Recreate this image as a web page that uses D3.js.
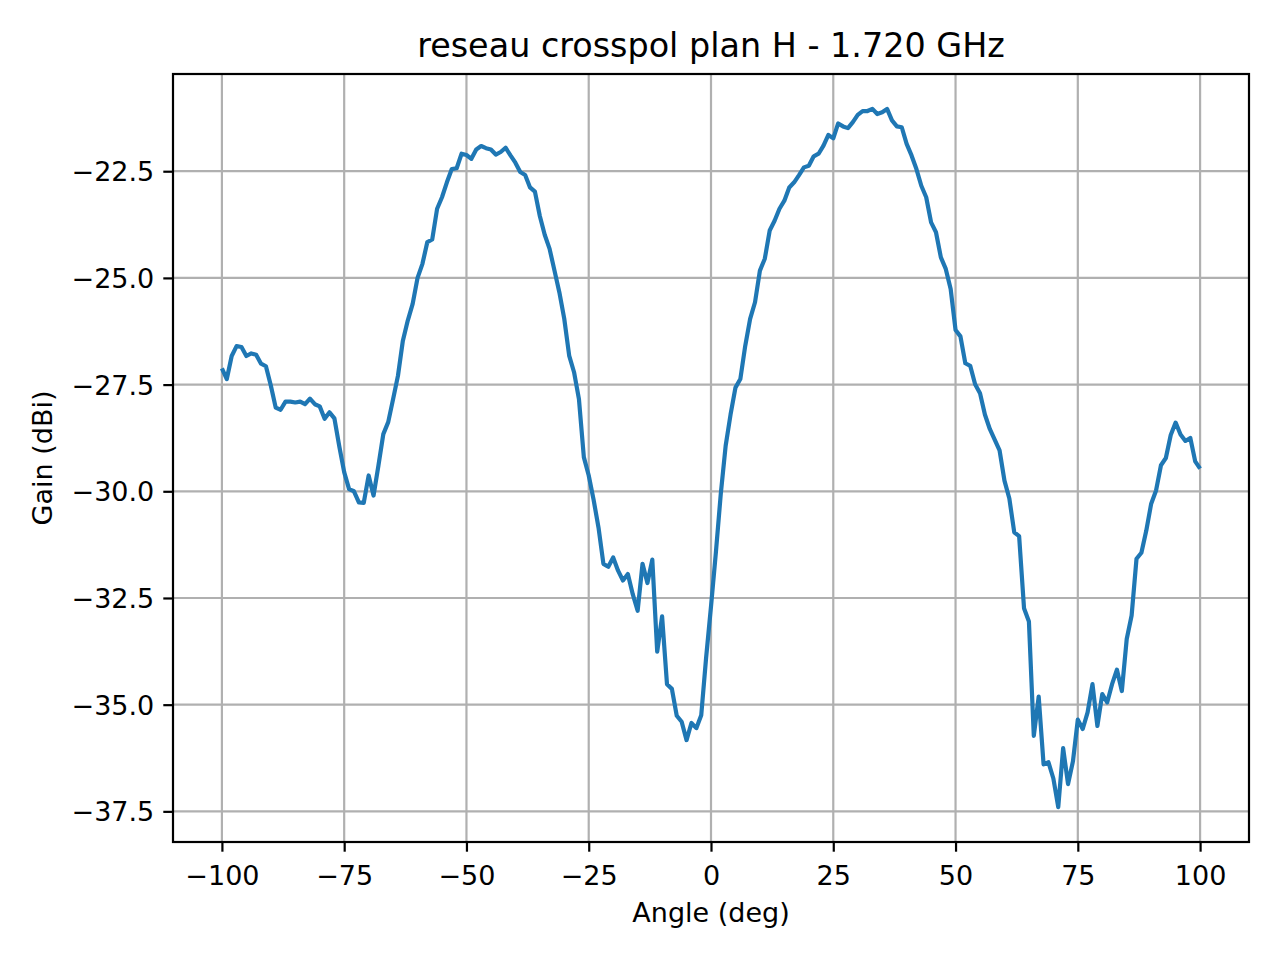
<!DOCTYPE html>
<html>
<head>
<meta charset="utf-8">
<script src="https://cdn.jsdelivr.net/npm/d3@7"></script>
<style>
  html, body { margin: 0; padding: 0; background: #ffffff; }
  svg { display: block; font-family: "DejaVu Sans", sans-serif; }
</style>
</head>
<body>
<svg id="chart" width="1280" height="960"></svg>
<script>
// ---- data ----
const titleText = "reseau crosspol plan H - 1.720 GHz";
const xLabelText = "Angle (deg)";
const yLabelText = "Gain (dBi)";
const angles = d3.range(-100, 101, 1);
const gain = [
  -27.12, -27.37, -26.83, -26.60, -26.62, -26.83, -26.77, -26.80, -27.01, -27.07,
  -27.52, -28.04, -28.09, -27.90, -27.90, -27.92, -27.90, -27.96, -27.83, -27.96,
  -28.01, -28.30, -28.15, -28.29, -28.95, -29.55, -29.95, -30.00, -30.26, -30.27,
  -29.63, -30.10, -29.40, -28.66, -28.38, -27.84, -27.29, -26.47, -26.00, -25.61,
  -25.00, -24.67, -24.16, -24.10, -23.38, -23.11, -22.76, -22.45, -22.43, -22.09,
  -22.12, -22.21, -21.99, -21.91, -21.96, -21.99, -22.11, -22.05, -21.95, -22.13,
  -22.30, -22.52, -22.59, -22.88, -22.98, -23.55, -23.99, -24.32, -24.83, -25.34,
  -25.96, -26.82, -27.21, -27.84, -29.20, -29.63, -30.20, -30.85, -31.70, -31.77,
  -31.55, -31.86, -32.09, -31.94, -32.41, -32.80, -31.70, -32.15, -31.60, -33.76,
  -32.93, -34.52, -34.63, -35.26, -35.40, -35.83, -35.43, -35.55, -35.25, -33.90,
  -32.70, -31.43, -30.06, -28.93, -28.20, -27.57, -27.37, -26.59, -25.96, -25.57,
  -24.83, -24.55, -23.89, -23.66, -23.38, -23.19, -22.88, -22.76, -22.59, -22.41,
  -22.37, -22.15, -22.09, -21.90, -21.65, -21.73, -21.38, -21.45, -21.49, -21.35,
  -21.18, -21.09, -21.09, -21.04, -21.16, -21.12, -21.04, -21.31, -21.45, -21.47,
  -21.86, -22.13, -22.45, -22.84, -23.11, -23.70, -23.93, -24.52, -24.79, -25.26,
  -26.22, -26.37, -27.00, -27.06, -27.49, -27.70, -28.20, -28.54, -28.79, -29.04,
  -29.75, -30.17, -30.96, -31.05, -32.74, -33.05, -35.73, -34.81, -36.40, -36.35,
  -36.73, -37.40, -36.02, -36.86, -36.33, -35.35, -35.57, -35.18, -34.52, -35.50,
  -34.75, -34.95, -34.52, -34.18, -34.68, -33.46, -32.91, -31.58, -31.44, -30.92,
  -30.29, -29.98, -29.39, -29.22, -28.68, -28.39, -28.67, -28.82, -28.75, -29.30,
  -29.47
];
const xTicks = [-100, -75, -50, -25, 0, 25, 50, 75, 100];
const yTicks = [-37.5, -35.0, -32.5, -30.0, -27.5, -25.0, -22.5];

// ---- layout ----
const W = 1280, H = 960;
const plot = { left: 173, right: 1249, top: 74, bottom: 842 };
const tickFont = 27, labelFont = 27, titleFont = 33.4;

const svg = d3.select("#chart");
svg.append("rect").attr("width", W).attr("height", H).attr("fill", "#ffffff");

// matplotlib-like 5% margins
const xExt = d3.extent(angles), yExt = d3.extent(gain);
const xPad = (xExt[1] - xExt[0]) * 0.05, yPad = (yExt[1] - yExt[0]) * 0.05;
const x = d3.scaleLinear().domain([xExt[0] - xPad, xExt[1] + xPad]).range([plot.left, plot.right]);
const y = d3.scaleLinear().domain([yExt[0] - yPad, yExt[1] + yPad]).range([plot.bottom, plot.top]);

const fmtY = d3.format(".1f");
const fmtX = d3.format("d");

// grid
const grid = svg.append("g");
grid.selectAll("line.gx").data(xTicks).enter().append("line")
  .attr("x1", d => x(d)).attr("x2", d => x(d))
  .attr("y1", plot.top).attr("y2", plot.bottom)
  .attr("stroke", "#b0b0b0").attr("stroke-width", 2.2);
grid.selectAll("line.gy").data(yTicks).enter().append("line")
  .attr("y1", d => y(d)).attr("y2", d => y(d))
  .attr("x1", plot.left).attr("x2", plot.right)
  .attr("stroke", "#b0b0b0").attr("stroke-width", 2.2);

// line
svg.append("clipPath").attr("id", "clip").append("rect")
  .attr("x", plot.left).attr("y", plot.top)
  .attr("width", plot.right - plot.left).attr("height", plot.bottom - plot.top);
const line = d3.line().x((d, i) => x(angles[i])).y(d => y(d));
svg.append("path").datum(gain)
  .attr("d", line)
  .attr("fill", "none")
  .attr("stroke", "#1f77b4")
  .attr("stroke-width", 4.2)
  .attr("stroke-linejoin", "round")
  .attr("stroke-linecap", "butt")
  .attr("clip-path", "url(#clip)");

// axes
const xAxis = d3.axisBottom(x).tickValues(xTicks).tickFormat(fmtX).tickSize(9.7).tickPadding(9);
const yAxis = d3.axisLeft(y).tickValues(yTicks).tickFormat(fmtY).tickSize(9.7).tickPadding(9);

const gx = svg.append("g").attr("transform", `translate(0,${plot.bottom})`).call(xAxis);
const gy = svg.append("g").attr("transform", `translate(${plot.left},0)`).call(yAxis);
[gx, gy].forEach(g => {
  g.select(".domain").remove();
  g.selectAll(".tick line").attr("stroke", "#000").attr("stroke-width", 2.2);
  g.selectAll(".tick text").attr("fill", "#000")
    .style("font-family", "'DejaVu Sans', sans-serif")
    .style("font-size", tickFont + "px");
});
gx.selectAll(".tick text").attr("dy", null).attr("y", 0)
  .attr("transform", "translate(0,43)");
gy.selectAll(".tick text").attr("dy", "0.35em");

// frame
svg.append("rect")
  .attr("x", plot.left).attr("y", plot.top)
  .attr("width", plot.right - plot.left).attr("height", plot.bottom - plot.top)
  .attr("fill", "none").attr("stroke", "#000").attr("stroke-width", 2.2);

// labels
svg.append("text")
  .attr("x", (plot.left + plot.right) / 2).attr("y", 57)
  .attr("text-anchor", "middle")
  .style("font-size", titleFont + "px").attr("fill", "#000")
  .text(titleText);
svg.append("text")
  .attr("x", (plot.left + plot.right) / 2).attr("y", 922)
  .attr("text-anchor", "middle")
  .style("font-size", labelFont + "px").attr("fill", "#000")
  .text(xLabelText);
svg.append("text")
  .attr("transform", `translate(52,${(plot.top + plot.bottom) / 2}) rotate(-90)`)
  .attr("text-anchor", "middle")
  .style("font-size", labelFont + "px").attr("fill", "#000")
  .text(yLabelText);
</script>
</body>
</html>
